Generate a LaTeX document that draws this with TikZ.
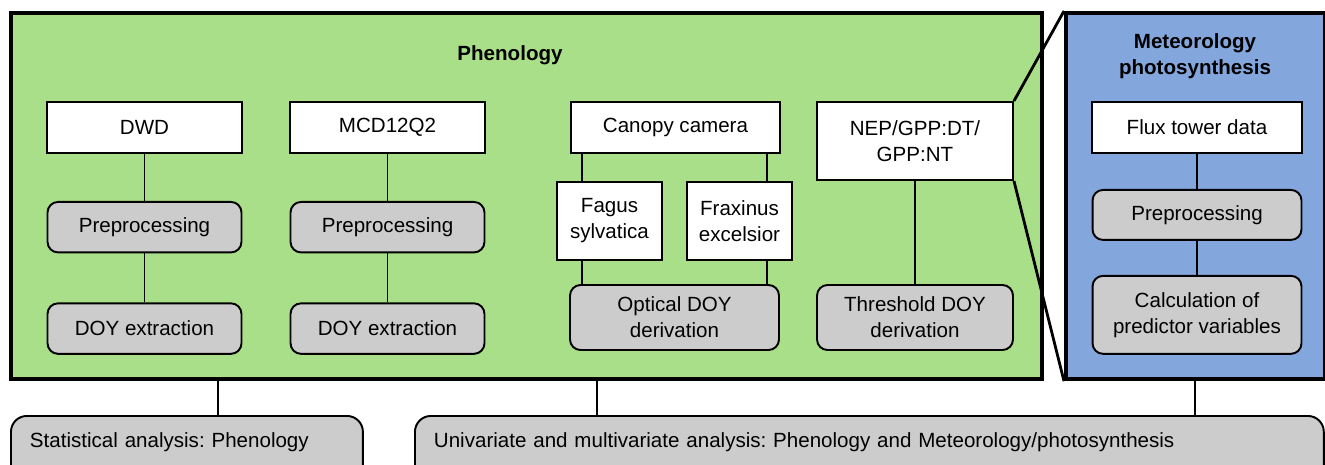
\documentclass[tikz,border=0pt]{standalone}
\usepackage{fontspec}
\setmainfont{Liberation Sans}
\usepackage{xcolor}
\usepackage{tikz}
\usetikzlibrary{positioning}

\definecolor{phengreen}{RGB}{169,223,137}
\definecolor{metblue}{RGB}{131,167,220}
\definecolor{boxgrey}{RGB}{204,204,204}
\frenchspacing

\begin{document}
\begin{tikzpicture}[
    x=0.02cm, y=-0.02cm,
    font=\fontsize{11.7}{14.8}\selectfont,
    src/.style={rectangle, draw, fill=white, line width=1.1pt,
        minimum height=1.02cm, align=center, inner sep=2pt},
    proc/.style={rectangle, draw, fill=boxgrey, rounded corners=6pt,
        line width=1.1pt, minimum height=1.01cm, align=center, inner sep=2pt},
    panel/.style={rectangle, draw, line width=2.4pt, inner sep=0pt, anchor=north west},
    result/.style={rectangle, draw, fill=boxgrey, rounded corners=9pt,
        line width=1.1pt, anchor=north west, align=left,
        inner xsep=0.38cm, inner ysep=0pt, text height=0.64cm, text depth=0.8cm},
    heading/.style={font=\fontsize{11.7}{14.8}\selectfont\bfseries, align=center},
    link/.style={line width=1.1pt},
    zoomline/.style={line width=1.6pt}
]
\useasboundingbox (0,0) rectangle (1325,464);
\clip (0,0) rectangle (1325,464);

\node[panel, fill=phengreen, minimum width=20.62cm, minimum height=7.32cm] (phen) at (9,11) {};
\node[panel, fill=metblue, minimum width=5.18cm, minimum height=7.32cm] (met) at (1064,11) {};
\node[heading] (phentitle) at (510,55) {Phenology};
\node[heading] (mettitle) at (1195,56) {Meteorology\\photosynthesis};

\node[src, minimum width=3.9cm] (dwd) at (144.5,127.5) {DWD};
\node[proc, minimum width=3.88cm, below=0.94cm of dwd] (pre1) {Preprocessing};
\node[proc, minimum width=3.88cm, below=0.98cm of pre1] (doy1) {DOY extraction};

\node[src, minimum width=3.9cm] (mcd) at (387.5,127.5) {MCD12Q2};
\node[proc, minimum width=3.88cm, below=0.94cm of mcd] (pre2) {Preprocessing};
\node[proc, minimum width=3.88cm, below=0.98cm of pre2] (doy2) {DOY extraction};

\node[src, minimum width=4.18cm] (canopy) at (675.5,127.5) {Canopy camera};
\node[src, minimum width=2.1cm, minimum height=1.56cm] (fagus) at (609.5,221) {Fagus\\sylvatica};
\node[src, minimum width=2.1cm, minimum height=1.56cm] (fraxinus) at (739.5,221) {Fraxinus\\excelsior};
\node[proc, minimum width=4.18cm, minimum height=1.3cm] (optical) at (674.5,317.5) {Optical DOY\\derivation};

\node[src, minimum width=3.92cm, minimum height=1.56cm] (nep) at (915,141) {NEP/GPP:DT/\\GPP:NT};
\node[proc, minimum width=3.92cm, minimum height=1.3cm] (threshold) at (915,317.5) {Threshold DOY\\derivation};

\node[src, minimum width=4.2cm] (flux) at (1197,127.5) {Flux tower data};
\node[proc, minimum width=4.18cm, minimum height=1.0cm, below=0.7cm of flux] (pre3) {Preprocessing};
\node[proc, minimum width=4.18cm, minimum height=1.56cm, below=0.68cm of pre3] (calc) {Calculation of\\predictor variables};

\node[result, text width=6.28cm] (stat) at (10,415) {Statistical analysis: Phenology};
\node[result, text width=17.42cm] (uni) at (414,415) {Univariate and multivariate analysis: Phenology and Meteorology/photosynthesis};

\draw[link] (dwd) -- (pre1);
\draw[link] (pre1) -- (doy1);
\draw[link] (mcd) -- (pre2);
\draw[link] (pre2) -- (doy2);
\draw[link] ([xshift=0.24cm]canopy.south west) -- ([xshift=0.24cm]canopy.south west |- fagus.north);
\draw[link] ([xshift=-0.28cm]canopy.south east) -- ([xshift=-0.28cm]canopy.south east |- fraxinus.north);
\draw[link] ([xshift=0.24cm]canopy.south west |- fagus.south) -- ([xshift=0.24cm]canopy.south west |- optical.north);
\draw[link] ([xshift=-0.28cm]canopy.south east |- fraxinus.south) -- ([xshift=-0.28cm]canopy.south east |- optical.north);
\draw[link] (nep) -- (threshold);
\draw[link] (flux) -- (pre3);
\draw[link] (pre3) -- (calc);
\draw[zoomline] (nep.north east) -- (met.north west);
\draw[zoomline] (nep.south east) -- (met.south west);
\draw[link] ([xshift=4.18cm]phen.south west) -- ([xshift=4.18cm]phen.south west |- stat.north);
\draw[link] ([xshift=11.76cm]phen.south west) -- ([xshift=11.76cm]phen.south west |- uni.north);
\draw[link] ([xshift=2.62cm]met.south west) -- ([xshift=2.62cm]met.south west |- uni.north);
\end{tikzpicture}
\end{document}
